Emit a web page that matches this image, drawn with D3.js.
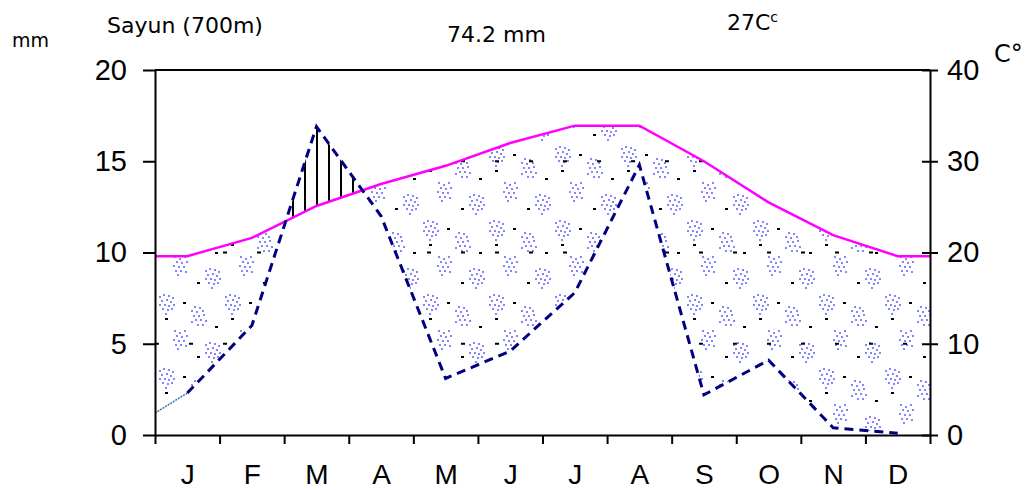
<!DOCTYPE html>
<html>
<head>
<meta charset="utf-8">
<script src="https://cdn.jsdelivr.net/npm/d3@7"></script>
<style>
body { margin: 0; background: #fff; }
svg text { fill: #000; }
.axis text { font-family: "Liberation Sans", Arial, sans-serif; font-size: 29px; }
.axis path, .axis line { stroke: #000; stroke-width: 2px; }
.title { font-family: "DejaVu Sans", Verdana, sans-serif; }
</style>
</head>
<body>
<div id="chart"></div>
<script>
var months = ["J", "F", "M", "A", "M", "J", "J", "A", "S", "O", "N", "D"];
var precip = [2.3, 6.0, 16.9, 12.0, 3.1, 4.6, 7.8, 14.8, 2.2, 4.1, 0.4, 0.1];   // mm
var temp = [19.6, 21.6, 25.1, 27.5, 29.5, 32.0, 33.9, 33.9, 30.0, 25.5, 21.9, 19.6]; // C
var edgePrecip = 1.2;   // value at the year boundary (Dec/Jan)
var edgeTemp = 19.6;
var mmTicks = [0, 5, 10, 15, 20];
var degTicks = [0, 10, 20, 30, 40];
var station = "Sayun (700m)";
var totalRain = "74.2 mm";
var meanTemp = "27C";

var width = 1028, height = 490;

var svg = d3.select("#chart")
  .append("svg")
  .attr("width", width)
  .attr("height", height);

var x = d3.scaleLinear().domain([0, 12]).range([155, 930]);
var yP = d3.scaleLinear().domain([0, 20]).range([435, 70]);
var yT = d3.scaleLinear().domain([0, 40]).range([435, 70]);

var tempPts = [[0, edgeTemp]].concat(temp.map((t, i) => [i + 0.5, t]), [[12, edgeTemp]]);
var precipPts = [[0, edgePrecip]].concat(precip.map((p, i) => [i + 0.5, p]), [[12, edgePrecip]]);

var defs = svg.append("defs");

// clip areas
function addClip(id, pts, scale, edge) {
  defs.append("clipPath").attr("id", id)
    .append("path")
    .attr("d", d3.area().x(d => x(d[0])).y0(edge).y1(d => scale(d[1]))(pts));
}
addClip("underTemp", tempPts, yT, 435);
addClip("aboveTemp", tempPts, yT, 70);
addClip("abovePrecip", precipPts, yP, 70);
addClip("belowPrecip", precipPts, yP, 435);

// stipple pattern for the dry season (loose blue blobs + a few black dots)
var shapeA = [[0,2],[4,0],[9,1],[13,3],[2,6],[7,5],[11,7],[0,10],[5,10],[9,11],[14,10],[3,14],[8,15],[12,14],[6,19]];
var shapeB = [[3,0],[8,1],[0,4],[5,5],[11,4],[2,9],[7,9],[12,8],[4,13],[9,13],[0,15],[14,14],[6,18],[11,18]];
var shapeC = [[1,0],[6,2],[11,0],[3,5],[8,6],[13,5],[0,9],[5,10],[10,10],[2,14],[7,14],[12,15],[4,18]];
var clusters = [[4, 2, shapeA], [36, 14, shapeB], [18, 38, shapeC], [50, 50, shapeA]];
var blackDots = [[28, 10], [60, 34], [10, 26], [42, 64]];

var stip = defs.append("pattern")
  .attr("id", "stipple")
  .attr("patternUnits", "userSpaceOnUse")
  .attr("x", 155).attr("y", 70)
  .attr("width", 66).attr("height", 74);

clusters.forEach(function(c) {
  stip.selectAll(null)
    .data(c[2])
    .enter()
    .append("rect")
    .attr("x", d => c[0] + d[0])
    .attr("y", d => c[1] + d[1])
    .attr("width", 2).attr("height", 2)
    .attr("fill", "#8585ff");
});
stip.selectAll(".bd")
  .data(blackDots)
  .enter()
  .append("rect")
  .attr("class", "bd")
  .attr("x", d => d[0]).attr("y", d => d[1])
  .attr("width", 3).attr("height", 2)
  .attr("fill", "#000");

// hatch pattern for the wet season
var hatch = defs.append("pattern")
  .attr("id", "hatch")
  .attr("patternUnits", "userSpaceOnUse")
  .attr("x", 155).attr("y", 0)
  .attr("width", 12).attr("height", 10);
hatch.append("line")
  .attr("x1", 6).attr("x2", 6).attr("y1", 0).attr("y2", 10)
  .attr("stroke", "#000").attr("stroke-width", 2);

// dry area
var dry = svg.append("g").attr("clip-path", "url(#underTemp)")
  .append("g").attr("clip-path", "url(#abovePrecip)");
dry.append("rect")
  .attr("x", 155).attr("y", 70).attr("width", 775).attr("height", 365)
  .attr("fill", "url(#stipple)");
dry.selectAll(".grid")
  .data([5, 10, 15])
  .enter()
  .append("line")
  .attr("class", "grid")
  .attr("x1", 155).attr("x2", 930)
  .attr("y1", d => yP(d)).attr("y2", d => yP(d))
  .attr("stroke", "#000").attr("stroke-width", 2)
  .attr("stroke-dasharray", "4,30");

// wet area
svg.append("g").attr("clip-path", "url(#aboveTemp)")
  .append("g").attr("clip-path", "url(#belowPrecip)")
  .append("rect")
  .attr("x", 155).attr("y", 70).attr("width", 775).attr("height", 365)
  .attr("fill", "url(#hatch)");

// temperature line
svg.append("path")
  .attr("d", d3.line().x(d => x(d[0])).y(d => yT(d[1]))(tempPts))
  .attr("fill", "none")
  .attr("stroke", "#ff00ff")
  .attr("stroke-width", 2.5);

// precipitation line
var pLine = d3.line().x(d => x(d[0])).y(d => yP(d[1]));
svg.append("path")
  .attr("d", pLine(precipPts.slice(0, 2)))
  .attr("fill", "none")
  .attr("stroke", "#3a70a8")
  .attr("stroke-width", 1.5)
  .attr("stroke-dasharray", "2,1");
svg.append("path")
  .attr("d", pLine(precipPts.slice(1, 13)))
  .attr("fill", "none")
  .attr("stroke", "#000080")
  .attr("stroke-width", 3)
  .attr("stroke-dasharray", "9,6");

// frame top
svg.append("line")
  .attr("x1", 155).attr("x2", 930).attr("y1", 70).attr("y2", 70)
  .attr("stroke", "#000").attr("stroke-width", 2);

// left axis
svg.append("g")
  .attr("class", "axis")
  .attr("transform", "translate(155,0)")
  .call(d3.axisLeft(yP).tickValues(mmTicks).tickSize(12).tickPadding(16).tickSizeOuter(0));

// right axis
var right = svg.append("g")
  .attr("class", "axis")
  .attr("transform", "translate(930,0)")
  .call(d3.axisRight(yT).tickValues(degTicks).tickSize(8).tickPadding(9).tickSizeOuter(0));
right.selectAll(".tick line").attr("x1", -8);

// bottom axis
svg.append("g")
  .attr("class", "axis")
  .attr("transform", "translate(0,435)")
  .call(d3.axisBottom(x).tickValues(d3.range(13)).tickSize(9).tickFormat("").tickSizeOuter(0));

var monthAxis = svg.append("g")
  .attr("class", "axis")
  .attr("transform", "translate(0,435)")
  .call(d3.axisBottom(x)
    .tickValues(months.map((m, i) => i + 0.5))
    .tickFormat((d, i) => months[i])
    .tickSize(0)
    .tickPadding(29));
monthAxis.select(".domain").remove();
monthAxis.selectAll("text").style("font-size", "28px");

// titles
svg.append("text").attr("class", "title")
  .attr("x", 12).attr("y", 47)
  .style("font-size", "19px")
  .text("mm");
svg.append("text").attr("class", "title")
  .attr("x", 107).attr("y", 33)
  .style("font-size", "22px")
  .text(station);
svg.append("text").attr("class", "title")
  .attr("x", 447).attr("y", 42)
  .style("font-size", "22px")
  .text(totalRain);
var mt = svg.append("text").attr("class", "title")
  .attr("x", 727).attr("y", 30)
  .style("font-size", "22px")
  .text(meanTemp);
mt.append("tspan").attr("dy", -8).style("font-size", "14px").text("c");
svg.append("text").attr("class", "title")
  .attr("x", 994).attr("y", 62)
  .style("font-size", "24px")
  .text("C°");
</script>
</body>
</html>
